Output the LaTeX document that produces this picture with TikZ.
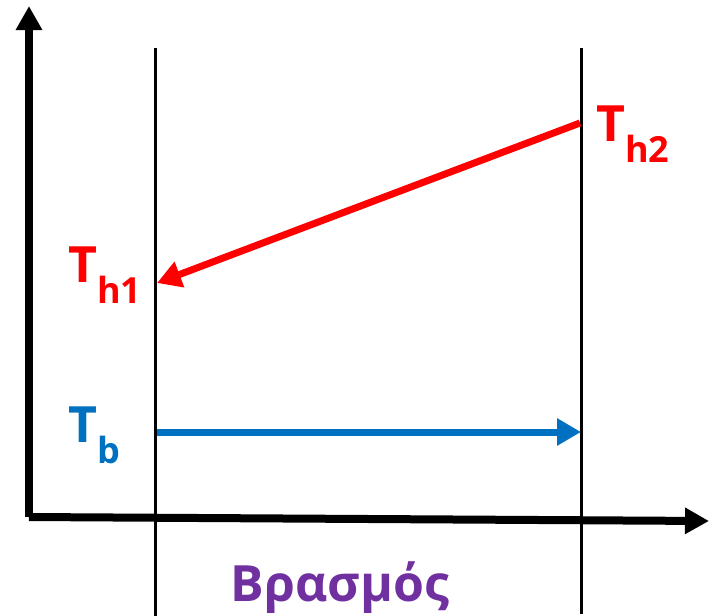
\documentclass[tikz,border=0pt]{standalone}
\usepackage{fontspec}
\setmainfont{Open Sans}
\usetikzlibrary{arrows.meta}
\definecolor{hred}{RGB}{255,0,0}
\definecolor{bblue}{RGB}{0,112,192}
\definecolor{vpurple}{RGB}{112,48,160}
\tikzset{
  axisline/.style={line width=8pt, -{Triangle[length=24pt,width=25pt]}},
  divider/.style={line width=3pt},
  flow/.style={line width=7pt, -{Triangle[length=24pt,width=26pt]}},
  lbl/.style={inner sep=0pt, font=\fontsize{50}{54}\selectfont\bfseries},
}
\newcommand{\subtxt}[1]{\raisebox{-0.42em}{\fontsize{36}{38}\selectfont #1}}
\begin{document}
\begin{tikzpicture}[x=1pt,y=-1pt]
\useasboundingbox (0,0) rectangle (710,616);
% axes
\coordinate (origin) at (29,517);
\coordinate (ytip) at (29,6);
\coordinate (xtip) at (709,521);
\draw[axisline] (origin) -- (ytip);
\draw[axisline] (origin) -- (xtip);
% vertical dividers
\coordinate (l1top) at (155,48);
\coordinate (l1bot) at (155,616);
\coordinate (l2top) at (581,48);
\coordinate (l2bot) at (581,614);
\draw[divider] (l1top) -- (l1bot);
\draw[divider] (l2top) -- (l2bot);
% arrows
\coordinate (h2) at (580,123);
\coordinate (h1) at (157,283);
\coordinate (b1) at (157,432);
\coordinate (b2) at (581,432);
\draw[flow, hred] (h2) -- (h1);
\draw[flow, bblue] (b1) -- (b2);
% labels
\node[lbl, hred, anchor=west] (th2) at (596,134) {T\subtxt{h2}};
\node[lbl, hred, anchor=west] (th1) at (68,275) {T\subtxt{h1}};
\node[lbl, bblue, anchor=west] (tb) at (68,435) {T\subtxt{b}};
\node[inner sep=0pt, vpurple, font=\fontsize{50}{54}\selectfont\bfseries] (vr) at (340,588) {Βρασμός};
\end{tikzpicture}
\end{document}
